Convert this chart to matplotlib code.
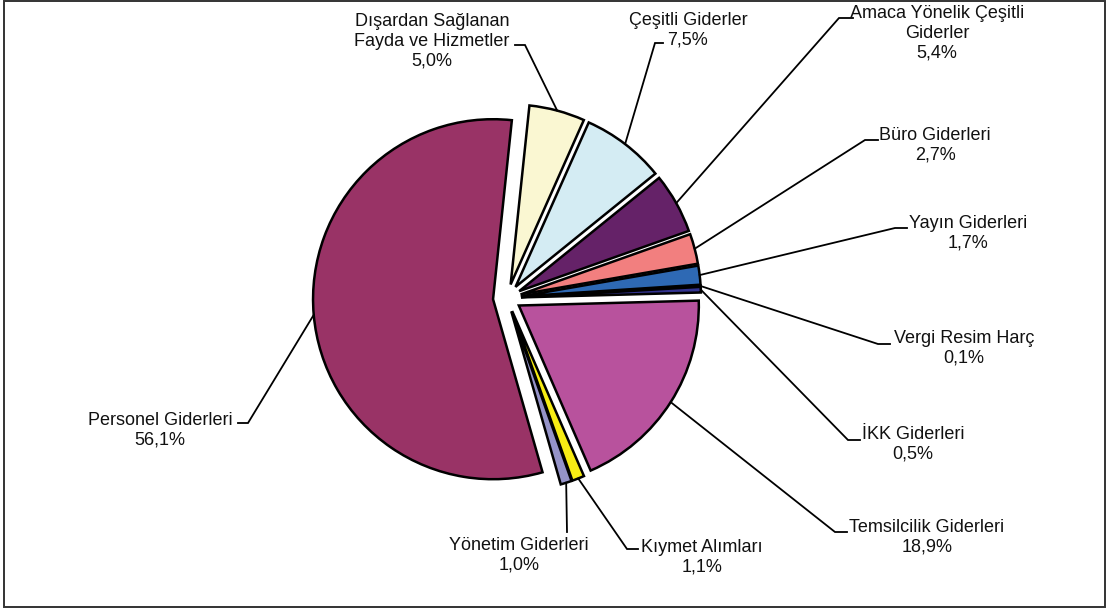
import matplotlib
matplotlib.use('Agg')
import matplotlib.pyplot as plt
import matplotlib.patches as mpatches
import math

plt.rcParams['font.family'] = ['Liberation Sans', 'DejaVu Sans']

# Gider kalemleri (saat yönünde, tepeden başlayarak)
names = ['Dışardan Sağlanan\nFayda ve Hizmetler', 'Çeşitli Giderler',
         'Amaca Yönelik Çeşitli\nGiderler', 'Büro Giderleri', 'Yayın Giderleri',
         'Vergi Resim Harç', 'İKK Giderleri', 'Temsilcilik Giderleri',
         'Kıymet Alımları', 'Yönetim Giderleri', 'Personel Giderleri']
shares = [5.0, 7.5, 5.4, 2.7, 1.7, 0.1, 0.5, 18.9, 1.1, 1.0, 56.1]
colors = ['#FAF7D2', '#D4ECF3', '#652268', '#F27F7F', '#2E69B4', '#1C1C4C',
          '#33338F', '#B8529D', '#F7EC14', '#9593C8', '#993366']

W, H = 1109, 610
CX, CY, R = 507, 298, 180  # pie centre / radius in pixels


def px(x, y):
    # image pixel -> data coords (unit = pie radius)
    return (x - CX) / R, (CY - y) / R


# text centre, elbow and end of the leader line (image pixels)
text_pos = [(432, 41), (688, 30), (937, 33), (935, 145), (968, 233), (964, 348),
            (913, 444), (927, 537), (702, 557), (519, 555), (160, 430)]
elbows = [(525, 45), (655, 43), (839, 18), (865, 140), (895, 228), (878, 344),
          (848, 440), (835, 532), (627, 549), (567, 532), (248, 423)]
ends = [(515, 45), (663, 43), (853, 18), (878, 140), (907, 228), (890, 344),
        (860, 440), (847, 532), (638, 549), (567, 532), (238, 423)]

fig = plt.figure(figsize=(W / 100, H / 100), dpi=100)
ax = fig.add_axes([0, 0, 1, 1])
x0, y0 = px(0, H)
x1, y1 = px(W, 0)

wedges, _ = ax.pie(shares, colors=colors, startangle=84, counterclock=False,
                   explode=[14 / R] * len(shares), radius=1,
                   wedgeprops=dict(edgecolor='black', linewidth=1.8))
ax.set_xlim(x0, x1)
ax.set_ylim(y0, y1)
ax.set_aspect('equal')
ax.axis('off')

for w, name, v, tp, el, en in zip(wedges, names, shares, text_pos, elbows, ends):
    mid = math.radians((w.theta1 + w.theta2) / 2)
    ax_, ay_ = w.center[0] + w.r * math.cos(mid), w.center[1] + w.r * math.sin(mid)
    ex, ey = px(*el)
    nx, ny = px(*en)
    ax.plot([ax_, ex, nx], [ay_, ey, ny], color='black', lw=1.3,
            solid_joinstyle='miter')
    tx, ty = px(*tp)
    label = name + '\n' + ('%.1f' % v).replace('.', ',') + '%'
    ax.text(tx, ty, label, ha='center', va='center', multialignment='center',
            fontsize=13, color='#111111')

fig.patches.append(mpatches.Rectangle((4 / W, 3 / H), 1101 / W, 606 / H,
                                      transform=fig.transFigure, fill=False,
                                      edgecolor='#333333', linewidth=1.4))
fig.savefig('out.png', dpi=100)
